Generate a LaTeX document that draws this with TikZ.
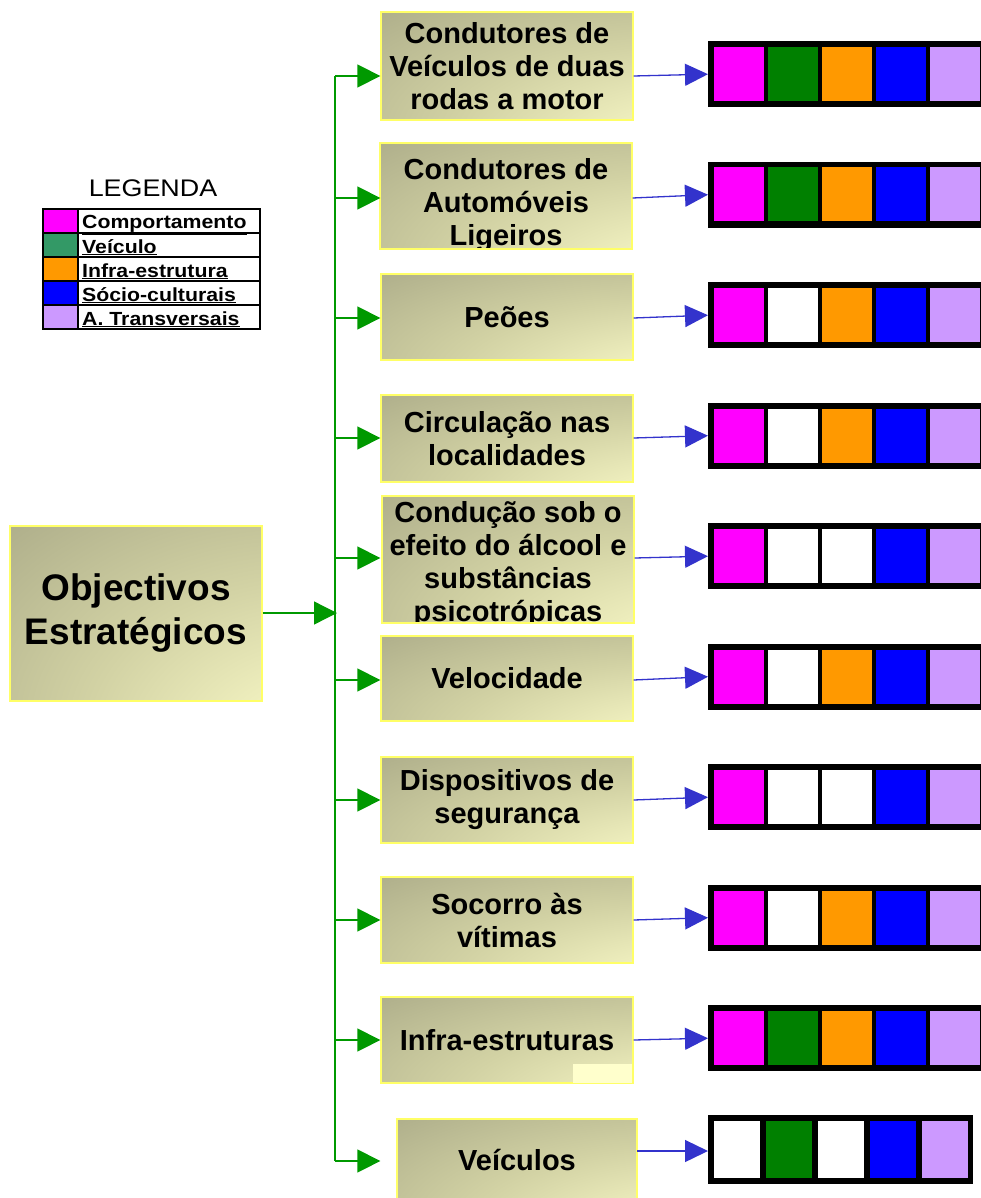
\documentclass[tikz,border=0pt]{standalone}
\usepackage{fontspec}
\setmainfont{Liberation Sans}
\newfontfamily\legfont[FakeStretch=1.12]{Liberation Sans}
\usetikzlibrary{arrows.meta}
\definecolor{CM}{HTML}{FF00FF}
\definecolor{CG}{HTML}{008000}
\definecolor{CGleg}{HTML}{339966}
\definecolor{CO}{HTML}{FF9900}
\definecolor{CB}{HTML}{0000FF}
\definecolor{CL}{HTML}{CC99FF}
\definecolor{CW}{HTML}{FFFFFF}
\definecolor{BranchClr}{HTML}{009900}
\definecolor{LinkClr}{HTML}{3333CC}
\definecolor{BoxDark}{HTML}{A8A886}
\definecolor{BoxMid}{HTML}{D2D2A4}
\definecolor{BoxLight}{HTML}{FFFFCC}
\definecolor{BoxEdge}{HTML}{FFFF66}
\pgfdeclareradialshading{goalshade}{\pgfpoint{50bp}{-50bp}}{color(0bp)=(BoxLight); color(12bp)=(BoxLight); color(45bp)=(BoxMid); color(78bp)=(BoxDark); color(150bp)=(BoxDark)}

\tikzset{
  box/.style={draw=BoxEdge, line width=1.3pt, shading=goalshade, inner sep=0pt, minimum width=252pt},
  goaltext/.style 2 args={path picture={\node[font=\bfseries\fontsize{29}{33}\selectfont, align=center, yshift=#2] at (path picture bounding box.center) {#1};}},
  branch/.style={draw=BranchClr, line width=1.3pt, -{Triangle[length=23pt,width=23pt]}},
  link/.style={draw=LinkClr, line width=1.3pt, -{Triangle[length=23pt,width=22pt]}},
  barframe/.style={fill=black, inner sep=0pt, anchor=north west},
  legline/.style={draw=black, line width=1.2pt},
  legtext/.style={anchor=base west, inner sep=0pt, font=\legfont\bfseries\fontsize{19}{22}\selectfont},
}

\begin{document}
\begin{tikzpicture}[x=1pt,y=-1pt]
\useasboundingbox (0,0) rectangle (981,1198);

% legenda
\node[font=\legfont\fontsize{24}{28}\selectfont] (leg) at (153,188) {LEGENDA};
\foreach \k/\clr/\txt in {0/CM/Comportamento,1/CGleg/Veículo,2/CO/Infra-estrutura,3/CB/Sócio-culturais,4/CL/A. Transversais}{
  \fill[fill=\clr] (43,{209+24*\k}) rectangle (78,{233+24*\k});
  \draw[legline] (43,{209+24*\k}) rectangle (260,{233+24*\k});
  \draw[legline] (78,{209+24*\k}) -- (78,{233+24*\k});
  \node[legtext] (leg\k) at (82,{229+24*\k}) {\underline{\txt}};
}

% objectivos
\node[box, minimum width=252pt, minimum height=175pt, align=center,
  font=\bfseries\fontsize{37}{44}\selectfont] (obj) at (136,613.5) {Objectivos\\Estratégicos};

\node[box, minimum height=108pt, goaltext={Condutores de\\Veículos de duas\\rodas a motor}{0pt}] (g1) at (507,66) {};
\node[box, minimum height=106pt, goaltext={Condutores de\\Automóveis\\Ligeiros}{-9pt}] (g2) at (506,196) {};
\node[box, minimum height=86pt, goaltext={Peões}{0pt}] (g3) at (507,317) {};
\node[box, minimum height=87pt, goaltext={Circulação nas\\localidades}{0pt}] (g4) at (507,438.5) {};
\node[box, minimum height=127pt, goaltext={Condução sob o\\efeito do álcool e\\substâncias\\psicotrópicas}{-5pt}] (g5) at (508,559.5) {};
\node[box, minimum height=85pt, goaltext={Velocidade}{0pt}] (g6) at (507,678.5) {};
\node[box, minimum height=86pt, goaltext={Dispositivos de\\segurança}{0pt}] (g7) at (507,800) {};
\node[box, minimum height=86pt, goaltext={Socorro às\\vítimas}{0pt}] (g8) at (507,920) {};
\node[box, minimum height=86pt, goaltext={Infra-estruturas}{0pt}] (g9) at (507,1040) {};
\fill[BoxLight] (573,1064) rectangle (632,1083);
\node[box, minimum width=240pt, minimum height=92pt, goaltext={Veículos}{5pt}] (g10) at (517,1165) {};

% ligacoes
\coordinate (in) at (337,613);
\draw[branch] (obj.east |- in) -- (in);
\draw[BranchClr, line width=1.3pt] (335,76) -- (335,1161);
\foreach \i/\y in {1/76,2/198,3/318,4/438,5/558,6/680,7/800,8/920,9/1040,10/1161}{
  \coordinate (s\i) at (335,\y);
  \draw[branch] (s\i) -- (s\i -| g1.west);
}

% barras
\foreach \i/\ca/\cb/\cc/\cd/\ce in {1/CM/CG/CO/CB/CL,2/CM/CG/CO/CB/CL,3/CM/CW/CO/CB/CL,4/CM/CW/CO/CB/CL,5/CM/CW/CW/CB/CL,6/CM/CW/CO/CB/CL,7/CM/CW/CW/CB/CL,8/CM/CW/CO/CB/CL,9/CM/CG/CO/CB/CL}{
  \pgfmathsetmacro\t{41+120.5*(\i-1)}
  \node[barframe, minimum width=280pt, minimum height=66pt] (bar\i) at (708,\t) {};
  \foreach \clr [count=\k from 0] in {\ca,\cb,\cc,\cd,\ce}
    \fill[fill=\clr] ({714+54*\k},{\t+6}) rectangle ++(50,54);
  \draw[link] (g\i.east |- s\i) -- (bar\i.west);
}
\node[barframe, minimum width=265pt, minimum height=69pt] (bar10) at (708,1115) {};
\foreach \clr [count=\k from 0] in {CW,CG,CW,CB,CL}
  \fill[fill=\clr] ({714+52*\k},1121) rectangle ++(46,57);
\coordinate (t10) at (637,1151);
\draw[link] (t10) -- (bar10.west |- t10);

\end{tikzpicture}
\end{document}
